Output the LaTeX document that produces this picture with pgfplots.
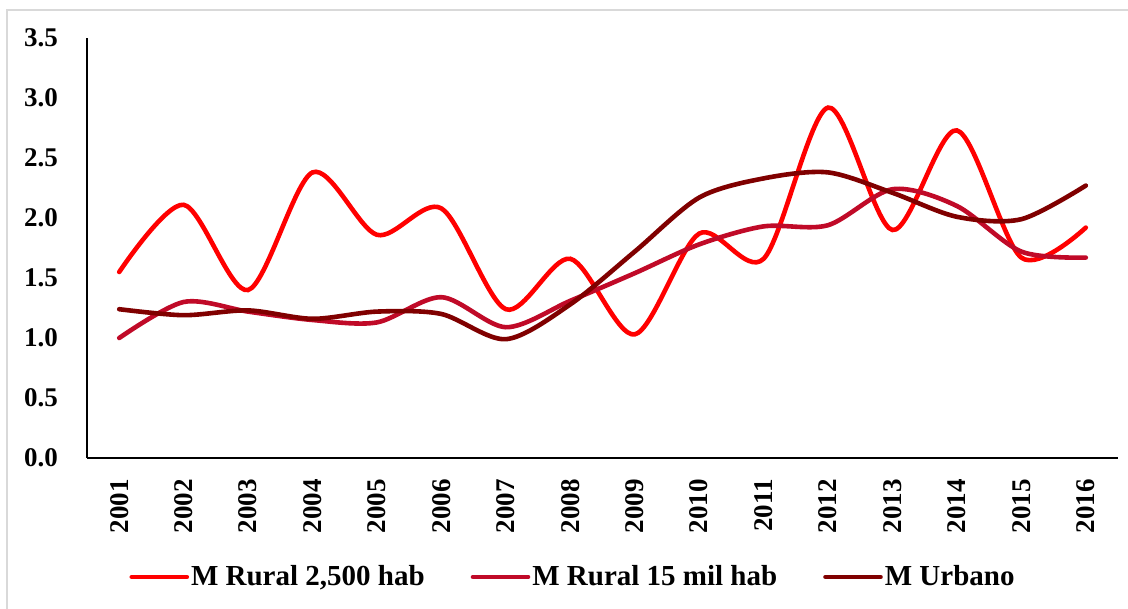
\documentclass[border=0pt]{standalone}
\usepackage{pgfplots}
\pgfplotsset{compat=1.18}
\usepackage{fontspec}
\setmainfont{Liberation Serif}

\definecolor{rural1}{HTML}{FF0000}
\definecolor{rural2}{HTML}{C00A28}
\definecolor{urbano}{HTML}{800000}

\begin{document}
\begin{tikzpicture}
\useasboundingbox (0,0) rectangle (564pt,304.5pt);
\draw[color=black!15, line width=1pt] (3.5pt,0) -- (3.5pt,299.5pt) -- (564pt,299.5pt);
\begin{axis}[
at={(43.5pt,75.5pt)}, anchor=south west,
scale only axis,
width=515.5pt, height=210pt,
xmin=2000.5, xmax=2016.5,
ymin=0, ymax=3.5,
axis x line*=bottom, axis y line*=left,
axis line style={line width=1pt, -},
xtick={2001,...,2016},
ytick={0,0.5,...,3.5},
major tick length=0pt,
tick label style={font=\fontsize{13.5}{15}\selectfont\bfseries},
/pgf/number format/assume math mode=true,
xticklabel style={rotate=90, anchor=east, xshift=-7pt, /pgf/number format/set thousands separator={}},
yticklabel style={/pgf/number format/fixed, /pgf/number format/fixed zerofill, /pgf/number format/precision=1, xshift=-11pt},
legend style={draw=none, at={(243pt,-59.5pt)}, anchor=center, legend columns=3,
  font=\fontsize{14.5}{16}\selectfont\bfseries,
  /tikz/every even column/.append style={column sep=22pt},
  nodes={inner sep=1pt}},
legend image code/.code={\draw[#1] (0pt,0pt) -- (27.5pt,0pt);},
every axis plot/.append style={line width=2.3pt, smooth, tension=0.5, line cap=round},
clip=false,
]
\addplot[color=rural1] coordinates {(2001,1.55) (2002,2.11) (2003,1.40) (2004,2.38) (2005,1.86) (2006,2.08) (2007,1.24) (2008,1.66) (2009,1.03) (2010,1.87) (2011,1.66) (2012,2.92) (2013,1.90) (2014,2.73) (2015,1.67) (2016,1.92)};
\addlegendentry{M Rural 2,500 hab}
\addplot[color=rural2] coordinates {(2001,1.00) (2002,1.30) (2003,1.22) (2004,1.15) (2005,1.13) (2006,1.34) (2007,1.09) (2008,1.31) (2009,1.54) (2010,1.78) (2011,1.93) (2012,1.94) (2013,2.24) (2014,2.10) (2015,1.72) (2016,1.67)};
\addlegendentry{M Rural 15 mil hab}
\addplot[color=urbano] coordinates {(2001,1.24) (2002,1.19) (2003,1.23) (2004,1.16) (2005,1.22) (2006,1.20) (2007,0.99) (2008,1.28) (2009,1.72) (2010,2.17) (2011,2.33) (2012,2.38) (2013,2.21) (2014,2.01) (2015,1.99) (2016,2.27)};
\addlegendentry{M Urbano}
\end{axis}
\end{tikzpicture}
\end{document}
